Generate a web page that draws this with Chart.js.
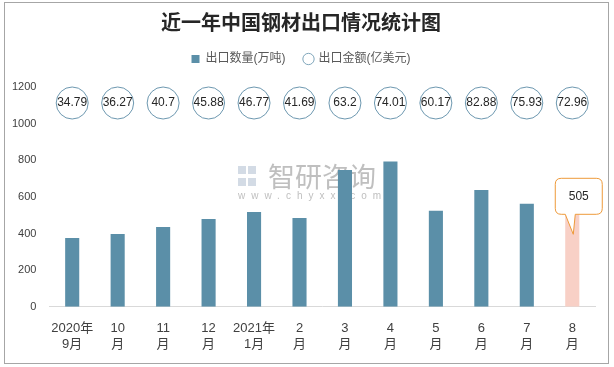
<!DOCTYPE html>
<html>
<head>
<meta charset="utf-8">
<script src="https://cdn.jsdelivr.net/npm/chart.js@4"></script>
<style>
  html, body { margin: 0; padding: 0; background: #fff; }
  #wrap { width: 614px; height: 367px; }
</style>
</head>
<body>
<div id="wrap"><canvas id="steelChart" width="614" height="367"></canvas></div>
<script>
// data
const months = [
  ["2020年", "9月"], ["10", "月"], ["11", "月"], ["12", "月"], ["2021年", "1月"],
  ["2", "月"], ["3", "月"], ["4", "月"], ["5", "月"], ["6", "月"], ["7", "月"], ["8", "月"]
];
const exportVolume = [376, 398, 436, 480, 518, 485, 747, 793, 524, 638, 562, 505];
const exportValue = [34.79, 36.27, 40.7, 45.88, 46.77, 41.69, 63.2, 74.01, 60.17, 82.88, 75.93, 72.96];
const yTicks = [0, 200, 400, 600, 800, 1000, 1200];

const FONT = "'Liberation Sans', 'Noto Sans CJK SC', sans-serif";
const barBlue = "#5b8fa8";
const barPink = "#f8d0c6";
const lastIdx = exportVolume.length - 1;

// outer frame
const framePlugin = {
  id: "frame",
  beforeInit(chart) {
    // extra room under the legend
    const legend = chart.legend;
    if (legend) {
      const fit = legend.fit;
      legend.fit = function () { fit.call(this); this.height += 12; };
    }
  },
  beforeDraw(chart) {
    const ctx = chart.ctx;
    ctx.save();
    ctx.fillStyle = "#fff";
    ctx.fillRect(0, 0, chart.width, chart.height);
    ctx.strokeStyle = "#a6a6a6";
    ctx.lineWidth = 1;
    ctx.strokeRect(4.5, 2.5, 604, 361);
    ctx.restore();
  }
};

// faint watermark behind bars
const watermarkPlugin = {
  id: "watermark",
  beforeDatasetsDraw(chart) {
    const ctx = chart.ctx;
    ctx.save();
    ctx.fillStyle = "rgba(200,210,222,0.8)";
    ctx.fillRect(238, 166, 8, 8);
    ctx.fillRect(248, 166, 8, 8);
    ctx.fillRect(238, 178, 8, 8);
    ctx.fillRect(248, 178, 8, 8);
    ctx.fillStyle = "rgba(170,170,170,0.75)";
    ctx.font = "27px 'Noto Sans CJK SC'";
    ctx.textBaseline = "middle";
    ctx.fillText("智研咨询", 268, 177);
    ctx.font = "10px " + FONT;
    ctx.letterSpacing = "6px";
    ctx.fillText("www.chyxx.com", 238, 196);
    ctx.restore();
  }
};

// circles with export value on top row
const circlesPlugin = {
  id: "circles",
  afterDatasetsDraw(chart) {
    const ctx = chart.ctx;
    const xs = chart.scales.x;
    const y = chart.chartArea.top + 16;
    const vals = chart.data.datasets[1].data;
    ctx.save();
    vals.forEach((v, i) => {
      const x = xs.getPixelForValue(i);
      ctx.beginPath();
      ctx.arc(x, y, 16, 0, Math.PI * 2);
      ctx.fillStyle = "#fff";
      ctx.fill();
      ctx.strokeStyle = "#6d98b0";
      ctx.lineWidth = 1;
      ctx.stroke();
      ctx.fillStyle = "#262626";
      ctx.font = "12px " + FONT;
      ctx.textAlign = "center";
      ctx.textBaseline = "middle";
      ctx.fillText(String(v), x, y);
    });
    ctx.restore();
  }
};

// callout on the last bar
const calloutPlugin = {
  id: "callout",
  afterDatasetsDraw(chart) {
    const bar = chart.getDatasetMeta(0).data[lastIdx];
    const ctx = chart.ctx;
    const bx = bar.x, by = bar.y;
    const left = bx - 17, right = bx + 30, bottom = by, top = by - 36, r = 6;
    ctx.save();
    ctx.beginPath();
    ctx.moveTo(left + r, top);
    ctx.lineTo(right - r, top);
    ctx.quadraticCurveTo(right, top, right, top + r);
    ctx.lineTo(right, bottom - r);
    ctx.quadraticCurveTo(right, bottom, right - r, bottom);
    ctx.lineTo(bx + 3, bottom);
    ctx.lineTo(bx + 1, bottom + 20);
    ctx.lineTo(bx - 7, bottom);
    ctx.lineTo(left + r, bottom);
    ctx.quadraticCurveTo(left, bottom, left, bottom - r);
    ctx.lineTo(left, top + r);
    ctx.quadraticCurveTo(left, top, left + r, top);
    ctx.closePath();
    ctx.fillStyle = "#fff";
    ctx.fill();
    ctx.strokeStyle = "#ee9a3a";
    ctx.lineWidth = 1;
    ctx.stroke();
    ctx.fillStyle = "#262626";
    ctx.font = "12px " + FONT;
    ctx.textAlign = "center";
    ctx.textBaseline = "middle";
    ctx.fillText(String(exportVolume[lastIdx]), (left + right) / 2, (top + bottom) / 2);
    ctx.restore();
  }
};

new Chart(document.getElementById("steelChart"), {
  type: "bar",
  data: {
    labels: months,
    datasets: [{
      label: "出口数量(万吨)",
      data: exportVolume,
      backgroundColor: exportVolume.map((v, i) => i === lastIdx ? barPink : barBlue),
      categoryPercentage: 1,
      barPercentage: 0.31,
      pointStyle: "rect",
      order: 2
    }, {
      type: "line",
      label: "出口金额(亿美元)",
      data: exportValue,
      yAxisID: "y2",
      showLine: false,
      pointRadius: 0,
      pointHoverRadius: 0,
      pointStyle: "circle",
      backgroundColor: "#fff",
      borderColor: "#7fa6bb",
      borderWidth: 1,
      order: 1
    }]
  },
  options: {
    responsive: false,
    animation: false,
    layout: { padding: { left: 7, right: 19, top: 8, bottom: 9 } },
    plugins: {
      title: {
        display: true,
        text: "近一年中国钢材出口情况统计图",
        color: "#262626",
        font: { family: "'Noto Sans CJK SC'", size: 20, weight: "bold" },
        padding: { top: 2, bottom: 0 }
      },
      legend: {
        display: true,
        labels: {
          usePointStyle: true,
          boxWidth: 8,
          boxHeight: 8,
          color: "#595959",
          font: { family: FONT, size: 12 },
          padding: 19,
          sort: (a, b) => a.datasetIndex - b.datasetIndex
        }
      },
      tooltip: { enabled: false }
    },
    scales: {
      x: {
        grid: { display: false },
        border: { display: true, color: "#d9d9d9" },
        ticks: {
          color: "#404040",
          font: { family: FONT, size: 13 },
          maxRotation: 0,
          autoSkip: false,
          padding: 6
        }
      },
      y: {
        min: yTicks[0],
        max: yTicks[yTicks.length - 1],
        grid: { display: false },
        border: { display: false },
        afterBuildTicks(axis) { axis.ticks = yTicks.map(v => ({ value: v })); },
        ticks: {
          color: "#404040",
          font: { family: FONT, size: 11 },
          padding: 5,
          callback: v => String(v)
        }
      },
      y2: { display: false, min: 0, max: 100 }
    }
  },
  plugins: [framePlugin, watermarkPlugin, circlesPlugin, calloutPlugin]
});
</script>
</body>
</html>
